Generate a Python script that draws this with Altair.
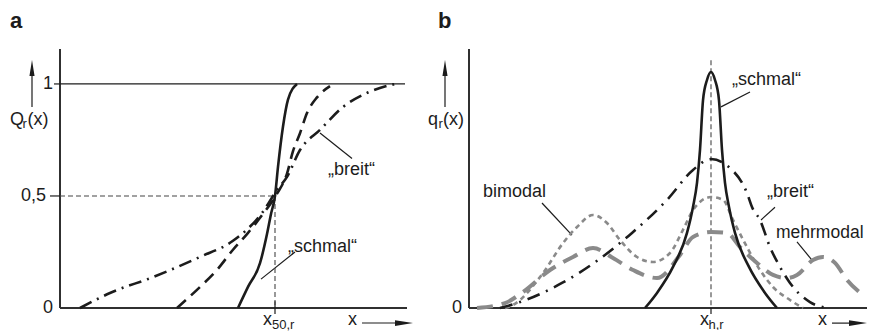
import altair as alt
import pandas as pd

FONT = "Liberation Sans"
INK = "#1c1c1c"
AXIS = "#303030"
GREY = "#8a8a8a"
DASHC = "#454545"

# ---------------- Panel a: cumulative distributions Q_r(x) ----------------
A_SCHMAL_X = [178, 188, 200, 207, 211, 215, 218, 223, 228, 237]
A_SCHMAL_Q = [0.0, 0.094, 0.20, 0.33, 0.42, 0.50, 0.63, 0.81, 0.93, 1.0]

A_DASH_X = [117, 140, 157, 173, 187, 203, 217, 227, 233, 240, 247, 257, 270]
A_DASH_Q = [0.0, 0.094, 0.17, 0.26, 0.33, 0.42, 0.51, 0.60, 0.70, 0.78, 0.87, 0.94, 0.99]

A_BREIT_X = [20, 50, 93, 140, 173, 203, 217, 227, 240, 260, 283, 307, 335]
A_BREIT_Q = [0.0, 0.067, 0.138, 0.228, 0.30, 0.43, 0.527, 0.585, 0.705, 0.795, 0.897, 0.96, 1.0]

A_TICK_LABELS = ["1", "0,5", "0"]
A_TICK_VALUES = [1.0, 0.5, 0.0]
A_X50 = 215

# ---------------- Panel b: density distributions q_r(x) ----------------
B_SCHMAL_X = [176, 188, 204, 218, 224, 228, 231, 234, 238, 242, 246, 250, 253, 256, 260, 266, 280, 296, 308]
B_SCHMAL_Q = [0.0, 0.064, 0.174, 0.318, 0.428, 0.53, 0.67, 0.88, 0.966, 1.0, 0.966, 0.88, 0.67, 0.53, 0.428,
              0.318, 0.174, 0.064, 0.0]

B_BREIT_X = [31, 51, 93, 129, 163, 198, 224, 242, 261, 278, 283, 291, 301, 311, 321, 341, 358]
B_BREIT_Q = [0.0, 0.025, 0.106, 0.203, 0.318, 0.458, 0.585, 0.631, 0.593, 0.487, 0.428, 0.373, 0.258, 0.174,
             0.106, 0.025, 0.0]

B_BIMODAL_X = [36, 44, 74, 94, 108, 124, 138, 151, 168, 184, 201, 214, 224, 242, 254, 264, 278, 291, 304, 321, 334]
B_BIMODAL_Q = [0.0, 0.013, 0.148, 0.275, 0.343, 0.394, 0.36, 0.288, 0.216, 0.195, 0.233, 0.331, 0.415, 0.47,
               0.458, 0.373, 0.258, 0.161, 0.089, 0.034, 0.0]

B_MEHR_X = [8, 36, 54, 81, 104, 124, 144, 164, 188, 211, 224, 242, 258, 271, 288, 304, 318, 328, 344, 354, 366,
            378, 394]
B_MEHR_Q = [0.0, 0.021, 0.068, 0.161, 0.216, 0.254, 0.212, 0.161, 0.127, 0.225, 0.301, 0.322, 0.318, 0.258,
            0.191, 0.14, 0.127, 0.14, 0.203, 0.216, 0.191, 0.119, 0.055]
B_XH = 242

ARROW_RIGHT = "M-1,-0.32L1,0L-1,0.32Z"
ARROW_UP = "M-0.32,1L0,-1L0.32,1Z"


def make_panel(xdom, ydom, clip):
    xs = alt.Scale(domain=xdom, nice=False, zero=False)
    ys = alt.Scale(domain=ydom, nice=False, zero=False)

    def enc_xy(c):
        return c.encode(x=alt.X("x:Q", scale=xs, axis=None), y=alt.Y("y:Q", scale=ys, axis=None))

    def rules(segs, **kw):
        df = pd.DataFrame(segs, columns=["x", "y", "x2", "y2"])
        return alt.Chart(df).mark_rule(clip=clip, **kw).encode(
            x=alt.X("x:Q", scale=xs, axis=None), y=alt.Y("y:Q", scale=ys, axis=None),
            x2="x2:Q", y2="y2:Q")

    def curve(xv, yv, **kw):
        df = pd.DataFrame({"x": xv, "y": yv})
        return enc_xy(alt.Chart(df).mark_line(interpolate="monotone", clip=clip, **kw))

    def texts(rows, noclip=False, **kw):
        df = pd.DataFrame(rows, columns=["x", "y", "t"])
        opts = dict(font=FONT, color=INK, clip=(clip and not noclip))
        opts.update(kw)
        return alt.Chart(df).mark_text(**opts).encode(
            x=alt.X("x:Q", scale=xs, axis=None), y=alt.Y("y:Q", scale=ys, axis=None), text="t:N")

    def head(x, y, shape, size):
        df = pd.DataFrame({"x": [x], "y": [y]})
        return enc_xy(alt.Chart(df).mark_point(shape=shape, size=size, filled=True, color=INK,
                                               opacity=1, strokeWidth=0, clip=clip))

    return rules, curve, texts, head


# ---------------- build panel a ----------------
rules, curve, texts, head = make_panel([-52, 380], [-0.0982, 1.339], False)
layers_a = [
    rules([(0, 0, 0, 1.156), (0, 0, 347, 0)], color=AXIS, strokeWidth=2),
    rules([(0, A_TICK_VALUES[0], 345, A_TICK_VALUES[0]), (-6, 1.0, 0, 1.0), (-10, 0.5, 0, 0.5),
           (A_X50, 0.03, A_X50, -0.027),
           (260, 0.781, 292, 0.667), (235, 0.25, 201, 0.129),
           (302, -0.067, 340, -0.067), (-28, 0.897, -28, 1.04)],
          color=INK, strokeWidth=1.2),
    rules([(0, 0.5, A_X50, 0.5), (A_X50, 0.5, A_X50, 0.0)], color=DASHC, strokeWidth=1.1, strokeDash=[5, 3]),
    curve(A_BREIT_X, A_BREIT_Q, color=INK, strokeWidth=2.6, strokeDash=[13, 6, 2, 6]),
    curve(A_DASH_X, A_DASH_Q, color=INK, strokeWidth=2.6, strokeDash=[12, 7]),
    curve(A_SCHMAL_X, A_SCHMAL_Q, color=INK, strokeWidth=2.6),
    head(344, -0.067, ARROW_RIGHT, 324),
    head(-28, 1.071, ARROW_UP, 256),
    texts([(-50, 1.25, "a")], align="left", baseline="alphabetic", fontSize=22, fontWeight="bold"),
    texts([(-7, A_TICK_VALUES[0], A_TICK_LABELS[0]), (-14, A_TICK_VALUES[1], A_TICK_LABELS[1]),
           (-7, A_TICK_VALUES[2], A_TICK_LABELS[2])], align="right", baseline="middle", fontSize=18),
    texts([(-50, 0.839, "Q"), (-32.5, 0.839, "(x)"),
           (268, 0.616, "\u201ebreit\u201c"), (228, 0.272, "\u201eschmal\u201c")],
          align="left", baseline="middle", fontSize=18),
    texts([(-37.5, 0.821, "r")], align="left", baseline="middle", fontSize=13),
    texts([(203, -0.076, "x"), (288, -0.076, "x")], align="left", baseline="alphabetic", fontSize=18),
    texts([(212, -0.094, "50,r")], align="left", baseline="alphabetic", fontSize=13),
]
panel_a = alt.layer(*layers_a).properties(width=432, height=322)

# ---------------- build panel b ----------------
rules, curve, texts, head = make_panel([-29, 398], [-0.0932, 1.271], True)
layers_b = [
    rules([(0, 0, 0, 1.097), (0, 0, 398, 0)], color=AXIS, strokeWidth=2),
    rules([(B_XH, 0.0, B_XH, -0.025),
           (281, 0.915, 252, 0.852), (73, 0.445, 103, 0.309), (306, 0.427, 292, 0.373), (328, 0.28, 343, 0.203),
           (363, -0.064, 382, -0.064), (-24, 0.852, -24, 0.987)],
          color=INK, strokeWidth=1.2),
    rules([(B_XH, 1.05, B_XH, 0.0)], color=DASHC, strokeWidth=1.1, strokeDash=[5, 3]),
    curve(B_MEHR_X, B_MEHR_Q, color=GREY, strokeWidth=4, strokeDash=[16, 9]),
    curve(B_BIMODAL_X, B_BIMODAL_Q, color=GREY, strokeWidth=2.6, strokeDash=[5, 4]),
    curve(B_BREIT_X, B_BREIT_Q, color=INK, strokeWidth=2.6, strokeDash=[13, 7, 2, 7]),
    curve(B_SCHMAL_X, B_SCHMAL_Q, color=INK, strokeWidth=2.6),
    head(389, -0.064, ARROW_RIGHT, 324),
    head(-24, 1.017, ARROW_UP, 256),
    texts([(-31, 1.186, "b")], noclip=True, align="left", baseline="alphabetic", fontSize=22,
          fontWeight="bold"),
    texts([(-7, 0.0, "0")], align="right", baseline="middle", fontSize=18),
    texts([(-41, 0.797, "q")], noclip=True, align="left", baseline="middle", fontSize=18),
    texts([(-26, 0.797, "(x)"),
           (263, 0.966, "\u201eschmal\u201c"), (14, 0.492, "bimodal"), (298, 0.492, "\u201ebreit\u201c")],
          align="left", baseline="middle", fontSize=18),
    texts([(307, 0.318, "mehrmodal")], noclip=True, align="left", baseline="middle", fontSize=17.5),
    texts([(-30.5, 0.78, "r")], noclip=True, align="left", baseline="middle", fontSize=13),
    texts([(231, -0.072, "x"), (349, -0.072, "x")], align="left", baseline="alphabetic", fontSize=18),
    texts([(239.5, -0.089, "h,r")], align="left", baseline="alphabetic", fontSize=13),
]
panel_b = alt.layer(*layers_b).properties(width=427, height=322)

chart = (alt.hconcat(panel_a, panel_b, spacing=0, bounds="flush")
         .properties(padding=0)
         .configure_view(stroke=None))
chart.save("out.html", embed_options={"renderer": "svg", "actions": False})
